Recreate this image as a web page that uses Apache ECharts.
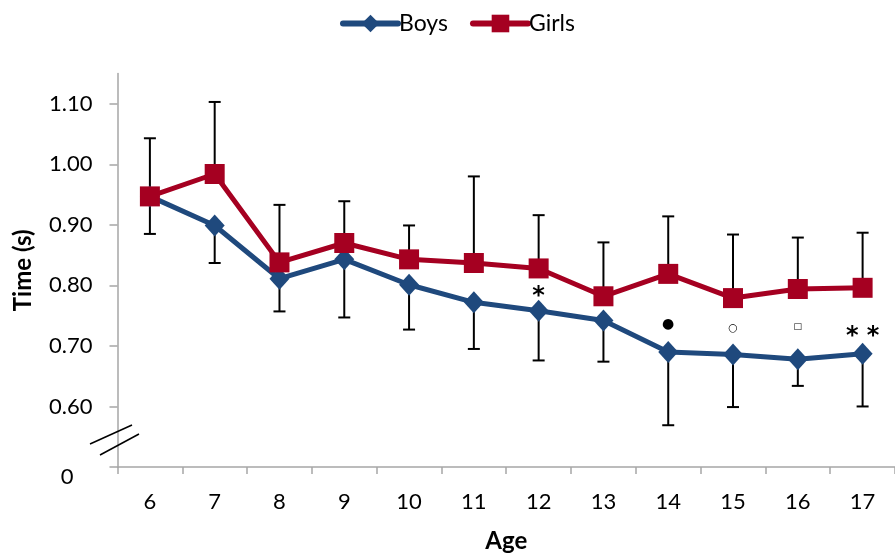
<!DOCTYPE html>
<html>
<head>
<meta charset="utf-8">
<script src="https://cdn.jsdelivr.net/npm/echarts@6/dist/echarts.min.js"></script>
<style>
html,body{margin:0;padding:0;background:#fff;}
#chart{width:895px;height:558px;}
</style>
</head>
<body>
<div id="chart"></div>
<script>
// ---- data ----
const ages = ['6','7','8','9','10','11','12','13','14','15','16','17'];
const boys = [0.947, 0.899, 0.811, 0.843, 0.801, 0.772, 0.758, 0.742, 0.690, 0.686, 0.678, 0.687];
const girls = [0.947, 0.984, 0.838, 0.870, 0.843, 0.837, 0.828, 0.782, 0.819, 0.779, 0.794, 0.796];
const boysLower = [0.885, 0.837, 0.757, 0.747, 0.727, 0.695, 0.676, 0.674, 0.569, 0.599, 0.634, 0.600];
const girlsUpper = [1.043, 1.103, 0.933, 0.939, 0.899, 0.980, 0.916, 0.871, 0.914, 0.884, 0.879, 0.887];
const annotText = ['', '', '', '', '', '', '*', '', '\u25CF', '\u25CB', '\u25A1', '* *'];
const annotY = [null, null, null, null, null, null, 0.789, null, 0.735, 0.730, 0.732, 0.724];
const yTicks = [0.5, 0.6, 0.7, 0.8, 0.9, 1.0, 1.1];

const FONT = 'Lato';
const BLUE = '#1F497D';
const RED = '#A50021';
const AXIS = '#A6A6A6';

function errBar(means, bounds) {
  return function (params, api) {
    const i = params.dataIndex;
    const p1 = api.coord([i, means[i]]);
    const p2 = api.coord([i, bounds[i]]);
    const st = { stroke: '#000', lineWidth: 2 };
    return {
      type: 'group',
      children: [
        { type: 'line', shape: { x1: p1[0], y1: p1[1], x2: p2[0], y2: p2[1] }, style: st },
        { type: 'line', shape: { x1: p2[0] - 6, y1: p2[1], x2: p2[0] + 6, y2: p2[1] }, style: st }
      ]
    };
  };
}

const chart = echarts.init(document.getElementById('chart'), null, { renderer: 'canvas' });
const option = {
  animation: false,
  backgroundColor: '#fff',
  textStyle: { fontFamily: FONT },
  legend: {
    top: 7,
    left: 335,
    itemWidth: 55,
    itemHeight: 22,
    itemGap: 22,
    lineStyle: { width: 6, cap: 'round' },
    textStyle: { fontFamily: FONT, fontSize: 23, color: '#000', padding: [0, 0, 0, -4] },
    data: ['Boys', 'Girls']
  },
  grid: { left: 117.5, right: -7.5, top: 73.5, bottom: 89.5 },
  xAxis: {
    type: 'category',
    data: ages,
    boundaryGap: true,
    name: 'Age',
    nameLocation: 'middle',
    nameGap: 62,
    nameTextStyle: { fontFamily: FONT, fontSize: 24, fontWeight: 'bold', color: '#000' },
    axisLine: { lineStyle: { color: AXIS, width: 1.5 } },
    axisTick: { show: true, interval: 0, length: 7, lineStyle: { color: AXIS, width: 1.5 } },
    axisLabel: { interval: 0, margin: 24, fontFamily: FONT, fontSize: 22, color: '#000' },
    splitLine: { show: false }
  },
  yAxis: {
    type: 'value',
    min: 0.5,
    max: 1.15,
    interval: 0.1,
    name: 'Time (s)',
    nameLocation: 'middle',
    nameGap: 82,
    nameTextStyle: { fontFamily: FONT, fontSize: 24, fontWeight: 'bold', color: '#000' },
    axisLine: { show: true, lineStyle: { color: AXIS, width: 1.5 } },
    axisTick: { show: true, length: 8, customValues: yTicks, lineStyle: { color: AXIS, width: 1.5 } },
    axisLabel: {
      margin: 25,
      fontFamily: FONT, fontSize: 22, color: '#000',
      customValues: yTicks,
      formatter: function (v) { return v < 0.55 ? '{z|0}' : v.toFixed(2); },
      rich: { z: { fontFamily: FONT, fontSize: 22, color: '#000', padding: [20, 19, 0, 0] } }
    },
    splitLine: { show: false }
  },
  series: [
    {
      name: 'boysErr', type: 'custom', z: 1,
      renderItem: errBar(boys, boysLower),
      data: ages.map((a, i) => [i, boysLower[i]])
    },
    {
      name: 'girlsErr', type: 'custom', z: 1,
      renderItem: errBar(girls, girlsUpper),
      data: ages.map((a, i) => [i, girlsUpper[i]])
    },
    {
      name: 'Boys', type: 'line', z: 3,
      data: boys,
      symbol: 'diamond', symbolSize: [20, 22],
      lineStyle: { color: BLUE, width: 5 },
      itemStyle: { color: BLUE },
      emphasis: { disabled: true }
    },
    {
      name: 'Girls', type: 'line', z: 4,
      data: girls,
      symbol: 'rect', symbolSize: 20,
      lineStyle: { color: RED, width: 5 },
      itemStyle: { color: RED },
      emphasis: { disabled: true }
    },
    {
      name: 'annot', type: 'custom', z: 5,
      renderItem: function (params, api) {
        const i = params.dataIndex;
        if (!annotText[i]) return null;
        const p = api.coord([i, annotY[i]]);
        const t = annotText[i];
        let fs = 24, ff = 'DejaVu Sans', fw = 'bold', dy = 5;
        if (t === '\u25CF') { fs = 14; fw = 'normal'; dy = 0; }
        if (t === '\u25CB') { fs = 11; fw = 'normal'; dy = 0; }
        if (t === '\u25A1') { fs = 9; fw = 'normal'; dy = 0; }
        return {
          type: 'text',
          x: p[0], y: p[1] + dy,
          style: { text: t, fill: '#000', font: fw + ' ' + fs + 'px "' + ff + '"', align: 'center', verticalAlign: 'middle' }
        };
      },
      data: ages.map((a, i) => [i, annotY[i] == null ? 0.7 : annotY[i]])
    }
  ],
  graphic: [
    { type: 'line', shape: { x1: 90, y1: 444, x2: 132, y2: 425 }, style: { stroke: '#000', lineWidth: 1.5 }, z: 10 },
    { type: 'line', shape: { x1: 100, y1: 455, x2: 139, y2: 434 }, style: { stroke: '#000', lineWidth: 1.5 }, z: 10 }
  ]
};
chart.setOption(option);
</script>
</body>
</html>
